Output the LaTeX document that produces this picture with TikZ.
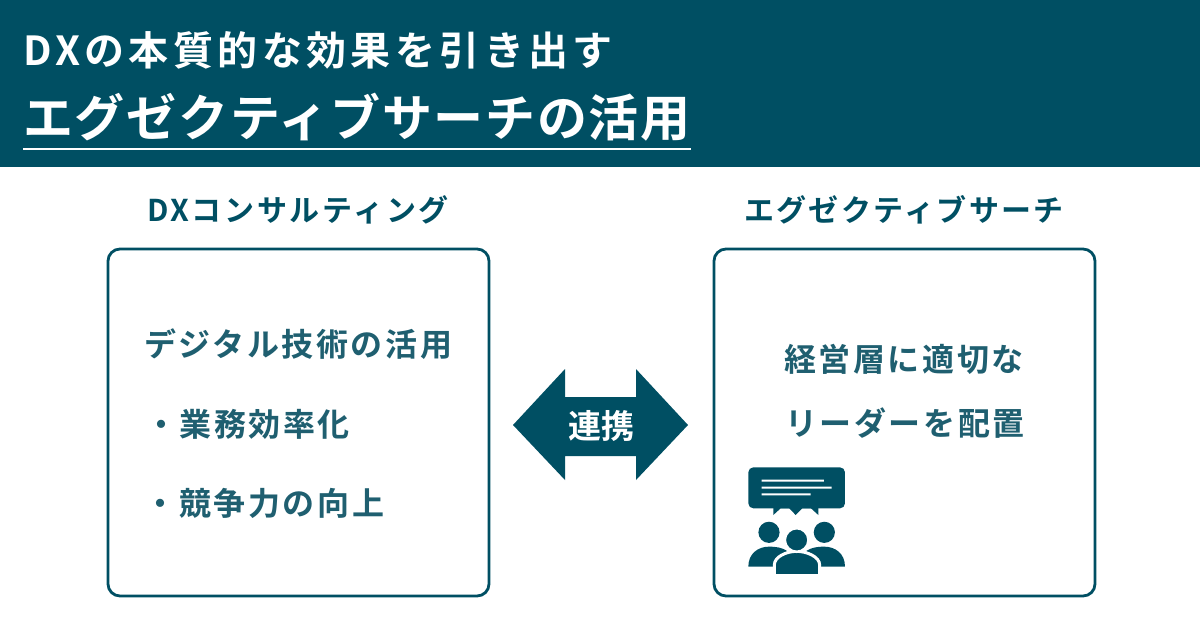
\documentclass[tikz,border=0pt]{standalone}
\usepackage{fontspec}
\setmainfont{Noto Sans CJK JP}
\newfontfamily\jpb{Noto Sans CJK JP Bold}
\definecolor{navy}{HTML}{004F63}
\definecolor{txt}{HTML}{1F5F70}
\tikzset{
 x=1pt,y=-1pt,
 ttl/.style={text=white,anchor=west,inner sep=0pt,font=\jpb},
 hd/.style={text=navy,inner sep=0pt,font=\jpb\fontsize{30}{30}\selectfont},
 bd/.style={text=txt,inner sep=0pt,font=\jpb\fontsize{32}{32}\selectfont},
 panel/.style={draw=navy,line width=2.8pt,rounded corners=12pt,fill=white,inner sep=0pt},
}
\begin{document}
\begin{tikzpicture}
\useasboundingbox (0,0) rectangle (1200,630);
\fill[navy] (0,0) rectangle (1200,167);
\node[ttl,font=\jpb\fontsize{40}{40}\selectfont] (t1) at (23,50) {\addfontfeature{LetterSpace=11}DXの本質的な効果を引き出す};
\node[ttl,font=\jpb\fontsize{50}{50}\selectfont] (t2) at (23,117) {\addfontfeature{LetterSpace=3.4}エグゼクティブサーチの活用};
\draw[white,line width=2pt] (23,149)--(691,149);
\node[hd] (h1) at (298,210) {\addfontfeature{LetterSpace=9}DXコンサルティング};
\node[hd] (h2) at (904,210) {\addfontfeature{LetterSpace=8}エグゼクティブサーチ};
\draw[panel] (108,249) rectangle (489,596);
\draw[panel] (714,249) rectangle (1095,596);
\node[bd,anchor=west] (a1) at (144,344) {\addfontfeature{LetterSpace=8}デジタル技術の活用};
\node[bd,anchor=west] (a2) at (145,424) {\addfontfeature{LetterSpace=8}・業務効率化};
\node[bd,anchor=west] (a3) at (144.5,503) {\addfontfeature{LetterSpace=8}・競争力の向上};
\node[bd] (b1) at (904,359) {\addfontfeature{LetterSpace=8}経営層に適切な};
\node[bd] (b2) at (905,423) {\addfontfeature{LetterSpace=8}リーダーを配置};
\fill[navy] (513,425)--(565,369)--(565,397)--(636,397)--(636,369)--(688,425)--(636,480)--(636,456)--(565,456)--(565,480)--cycle;
\node[text=white,inner sep=0pt,font=\jpb\fontsize{33}{33}\selectfont] (c) at (601,426) {連携};
% icon
\begin{scope}[shift={(730,450)},x=0.3333pt,y=-0.3333pt]
\fill[navy,rounded corners=5pt] (55,52) rectangle (345,175);
\fill[navy] (130,170)--(130,195)--(152,175)--(178,175)--(197,195)--(217,175)--(243,175)--(265,195)--(265,170)--cycle;
\fill[white] (95,89) rectangle (282,95) (95,110) rectangle (305,116) (95,130) rectangle (242,136);
\fill[navy] (117,247) circle (10.6pt) (283,247) circle (10.6pt);
\fill[navy] (55,350) .. controls (55,310) and (85,290) .. (117,290) .. controls (140,290) and (155,293) .. (170,302) -- (170,350) -- cycle;
\fill[navy] (345,350) .. controls (345,310) and (315,290) .. (283,290) .. controls (260,290) and (245,293) .. (230,302) -- (230,350) -- cycle;
\fill[navy,draw=white,line width=3pt] (133,379) -- (133,345) .. controls (133,320) and (170,304) .. (200,304) .. controls (230,304) and (269,320) .. (269,345) -- (269,379) -- cycle;
\fill[white] (125,373) rectangle (277,385);
\fill[navy,draw=white,line width=2.5pt] (200,270) circle (11.8pt);
\end{scope}
\end{tikzpicture}
\end{document}
